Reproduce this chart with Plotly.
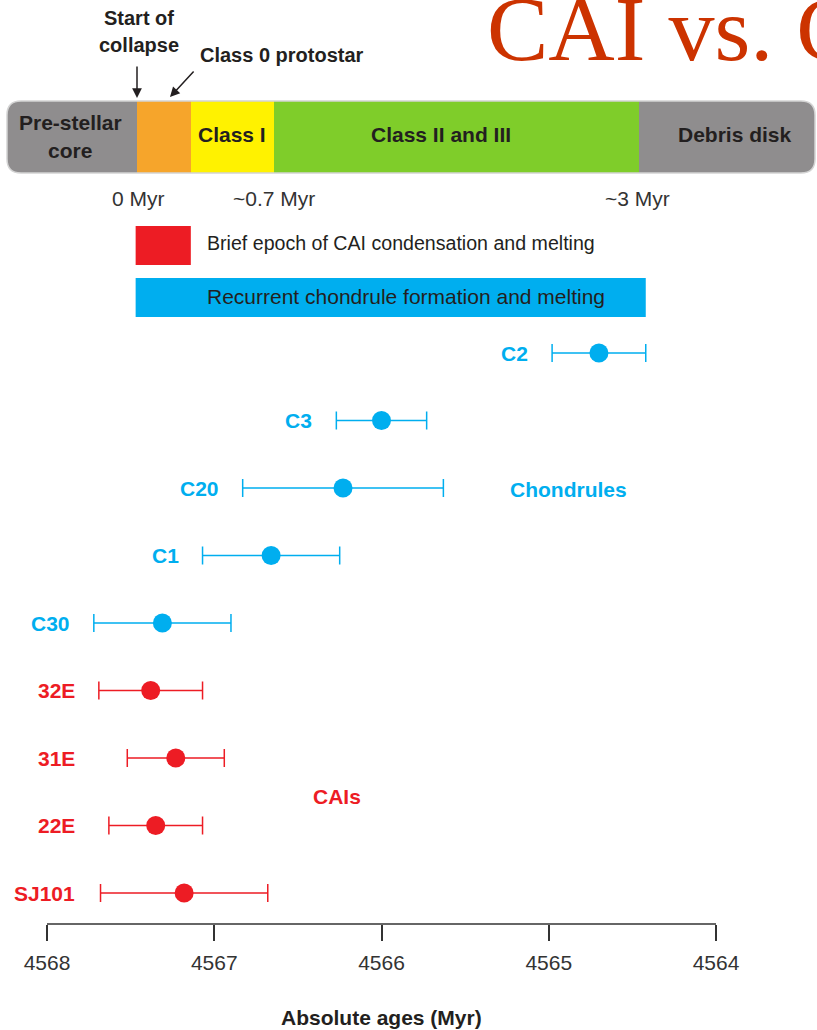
import plotly.graph_objects as go

# Sample ages (Myr) with 2-sigma uncertainties
cai_names = ["32E", "31E", "22E", "SJ101"]
cai_age = [4567.38, 4567.23, 4567.35, 4567.18]
cai_err = [0.31, 0.29, 0.28, 0.50]

chon_names = ["C2", "C3", "C20", "C1", "C30"]
chon_age = [4564.70, 4566.00, 4566.23, 4566.66, 4567.31]
chon_err = [0.28, 0.27, 0.60, 0.41, 0.41]

# Formation epochs (absolute age, Myr)
cai_epoch = [4567.47, 4567.14]
chondrule_epoch = [4567.47, 4564.42]

tick_vals = [4568, 4567, 4566, 4565, 4564]
row_order = ["SJ101", "22E", "31E", "32E", "C30", "C1", "C20", "C3", "C2"]

BLUE = "#00aeef"
RED = "#ed1c24"
INK = "#231f20"
SANS = "Liberation Sans, Arial, sans-serif"

W, H = 817, 1030
PLOT_BOTTOM = 924


def px(x):
    return x / W


def py(y):
    return (PLOT_BOTTOM - y) / PLOT_BOTTOM


fig = go.Figure()

fig.add_trace(go.Scatter(
    x=chon_age, y=chon_names, mode="markers",
    marker=dict(size=19, color=BLUE),
    error_x=dict(type="data", array=chon_err, color=BLUE, thickness=1.5, width=9),
    hoverinfo="skip",
))
fig.add_trace(go.Scatter(
    x=cai_age, y=cai_names, mode="markers",
    marker=dict(size=19, color=RED),
    error_x=dict(type="data", array=cai_err, color=RED, thickness=1.5, width=9),
    hoverinfo="skip",
))

shapes = []
annotations = []


def rounded_path(x0, y0, x1, y1, r):
    rx, ry = r / W, r / PLOT_BOTTOM
    X0, X1 = px(x0), px(x1)
    Y0, Y1 = py(y0), py(y1)  # Y0 top, Y1 bottom in paper units
    return (
        f"M {X0 + rx},{Y0} L {X1 - rx},{Y0} Q {X1},{Y0} {X1},{Y0 - ry} "
        f"L {X1},{Y1 + ry} Q {X1},{Y1} {X1 - rx},{Y1} "
        f"L {X0 + rx},{Y1} Q {X0},{Y1} {X0},{Y1 + ry} "
        f"L {X0},{Y0 - ry} Q {X0},{Y0} {X0 + rx},{Y0} Z"
    )


# Evolutionary stage bar
bar_top, bar_bot = 101, 173
shapes.append(dict(type="path", xref="paper", yref="paper",
                   path=rounded_path(7, bar_top, 815, bar_bot, 14),
                   fillcolor="#8f8d8e", line=dict(width=0)))
for x0, x1, col in [(137, 191, "#f6a52b"), (191, 274, "#fff200"), (274, 639, "#7fcd2a")]:
    shapes.append(dict(type="rect", xref="paper", yref="paper",
                       x0=px(x0), x1=px(x1), y0=py(bar_bot), y1=py(bar_top),
                       fillcolor=col, line=dict(width=0)))
shapes.append(dict(type="path", xref="paper", yref="paper",
                   path=rounded_path(7, bar_top, 815, bar_bot, 14),
                   fillcolor="rgba(0,0,0,0)", line=dict(color="#d4d4d4", width=1.5)))

# Epoch bands
shapes.append(dict(type="rect", xref="x", yref="paper",
                   x0=cai_epoch[0], x1=cai_epoch[1], y0=py(265), y1=py(226),
                   fillcolor=RED, line=dict(width=0)))
shapes.append(dict(type="rect", xref="x", yref="paper",
                   x0=chondrule_epoch[0], x1=chondrule_epoch[1], y0=py(317), y1=py(278),
                   fillcolor=BLUE, line=dict(width=0)))

# Age axis baseline
shapes.append(dict(type="line", xref="x", yref="paper",
                   x0=tick_vals[0], x1=tick_vals[-1], y0=0, y1=0,
                   line=dict(color="#333333", width=1.5)))


def text(t, x, y, size=21, bold=False, color=INK, xanchor="center", family=SANS):
    annotations.append(dict(
        text=f"<b>{t}</b>" if bold else t, x=px(x), y=py(y),
        xref="paper", yref="paper", xanchor=xanchor, yanchor="middle",
        showarrow=False, font=dict(family=family, size=size, color=color),
    ))


# Title
text("CAI vs. C", 485, 29, size=92, color="#cc3300", xanchor="left",
     family="Liberation Serif, Times New Roman, serif")

# Stage annotations
text("Start of", 139, 18, size=20, bold=True)
text("collapse", 139, 45, size=20, bold=True)
text("Class 0 protostar", 198, 55, size=20, bold=True, xanchor="left")
text("Pre-stellar", 70, 122, size=21, bold=True)
text("core", 70, 150, size=21, bold=True)
text("Class I", 232, 134, size=21, bold=True)
text("Class II and III", 441, 134, size=21, bold=True)
text("Debris disk", 735, 134, size=21, bold=True)
text("0 Myr", 138, 199, size=21, color="#333333")
text("~0.7 Myr", 274, 199, size=21, color="#333333")
text("~3 Myr", 637, 199, size=21, color="#333333")

for hx, hy, ax, ay in [(137, 98, 0, -33), (170, 97, 25, -27)]:
    annotations.append(dict(
        x=px(hx), y=py(hy), xref="paper", yref="paper", text="",
        showarrow=True, ax=ax, ay=ay, arrowhead=2, arrowsize=1.3,
        arrowwidth=1.5, arrowcolor=INK,
    ))

# Epoch band captions
text("Brief epoch of CAI condensation and melting", 205, 243, size=19.6,
     xanchor="left")
text("Recurrent chondrule formation and melting", 205, 297, size=21,
     xanchor="left")

# Sample labels
for name, age, err in zip(chon_names, chon_age, chon_err):
    annotations.append(dict(
        text=f"<b>{name}</b>", x=age + err, y=name, xref="x", yref="y",
        xanchor="right", yanchor="middle", xshift=-22, showarrow=False,
        font=dict(family=SANS, size=21, color=BLUE),
    ))
for name in cai_names:
    annotations.append(dict(
        text=f"<b>{name}</b>", x=px(77), y=name, xref="paper", yref="y",
        xanchor="right", yanchor="middle", showarrow=False,
        font=dict(family=SANS, size=21, color=RED),
    ))

text("Chondrules", 568, 489, size=21, bold=True, color=BLUE)
text("CAIs", 337, 796, size=21, bold=True, color=RED)
text("Absolute ages (Myr)", 381, 1017, size=21, bold=True)

# Axis ranges: 4568 at x=47 px and 4564 at x=716 px
ppm = (716 - 47) / 4
x_left = 4568 + 47 / ppm
x_right = 4568 - (W - 47) / ppm
row_gap = (893 - 353) / 8
y_low = -(PLOT_BOTTOM - 893) / row_gap
y_high = y_low + PLOT_BOTTOM / row_gap

fig.update_layout(
    width=W, height=H,
    margin=dict(l=0, r=0, t=0, b=H - PLOT_BOTTOM),
    paper_bgcolor="white", plot_bgcolor="white",
    showlegend=False,
    shapes=shapes, annotations=annotations,
    xaxis=dict(range=[x_left, x_right], tickvals=tick_vals,
               ticktext=[str(v) for v in tick_vals],
               ticks="outside", ticklen=16, tickwidth=1.5, tickcolor="#333333",
               ticklabelstandoff=4,
               showgrid=False, zeroline=False, showline=False,
               tickfont=dict(family=SANS, size=21, color="#333333"),
               fixedrange=True),
    yaxis=dict(type="category", categoryorder="array", categoryarray=row_order,
               range=[y_low, y_high], visible=False, fixedrange=True),
)

fig.write_html("out.html")
